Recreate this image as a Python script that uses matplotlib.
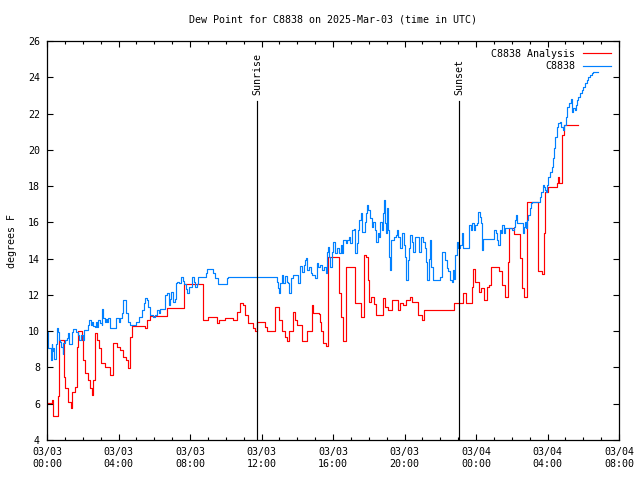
import matplotlib
matplotlib.use("Agg")
import matplotlib.pyplot as plt
from matplotlib.ticker import MultipleLocator

# hours since 2025-03-03 00:00 UTC
analysis_hours = [0.00, 0.26, 0.32, 0.60, 0.65, 0.93, 1.00, 1.19, 1.34, 1.42, 1.55, 1.66, 1.72,
                  1.94, 2.00, 2.13, 2.31, 2.40, 2.50, 2.60, 2.69, 2.80, 2.92, 3.02, 3.25, 3.52,
                  3.68, 3.90, 4.08, 4.23, 4.42, 4.55, 4.64, 4.74, 5.48, 5.58, 5.76, 6.70, 7.66,
                  8.71, 9.00, 9.49, 9.60, 9.96, 10.40, 10.65, 10.80, 10.95, 11.08, 11.26, 11.54,
                  11.65, 11.73, 12.20, 12.29, 12.76, 12.98, 13.13, 13.30, 13.41, 13.55, 13.75,
                  13.90, 13.97, 14.25, 14.53, 14.81, 14.90, 15.20, 15.27, 15.35, 15.42, 15.59,
                  15.70, 15.74, 16.35, 16.45, 16.58, 16.70, 16.73, 17.23, 17.55, 17.73, 17.85,
                  17.97, 18.03, 18.15, 18.30, 18.41, 18.78, 18.90, 19.09, 19.28, 19.60, 19.65,
                  19.75, 19.90, 20.10, 20.31, 20.40, 20.77, 20.96, 21.09, 22.79, 23.26, 23.44,
                  23.76, 23.82, 23.96, 24.17, 24.30, 24.46, 24.60, 24.74, 24.82, 25.30, 25.45,
                  25.62, 25.81, 25.85, 26.14, 26.46, 26.56, 26.69, 26.84, 27.45, 27.49, 27.68,
                  27.81, 27.86, 28.04, 28.55, 28.60, 28.66, 28.79, 28.83, 28.92, 29.72]
analysis_dewpt = [6.06, 6.20, 5.33, 6.40, 9.52, 7.50, 6.87, 6.10, 5.77, 6.67, 6.94, 9.15, 10.00,
                  9.50, 8.40, 7.68, 7.30, 6.87, 6.50, 7.30, 9.89, 9.50, 9.06, 8.23, 8.05, 7.60,
                  9.33, 9.15, 8.96, 8.60, 8.40, 7.96, 9.70, 10.30, 10.15, 10.62, 10.84, 11.30, 12.60,
                  10.62, 10.77, 10.44, 10.62, 10.73, 10.62, 11.08, 11.57, 11.45, 10.90, 10.44, 10.16,
                  10.00, 10.53, 10.25, 10.03, 11.35, 10.62, 10.03, 9.70, 9.48, 10.03, 11.08,
                  10.62, 10.34, 9.48, 10.03, 11.45, 11.00, 10.95, 10.53, 10.00, 9.37, 9.19,
                  9.30, 14.11, 12.09, 10.80, 9.48, 9.60, 13.52, 11.57, 10.77, 14.20, 14.11,
                  12.82, 11.63, 11.90, 11.50, 10.90, 11.82, 11.35, 11.17, 11.72, 11.72, 11.17,
                  11.54, 11.45, 11.72, 11.87, 11.63, 10.90, 10.62, 11.17, 11.54, 12.09, 11.57,
                  12.46, 13.41, 12.73, 12.18, 12.37, 11.72, 12.46, 12.55, 13.56, 13.34, 12.55,
                  11.87, 13.84, 15.67, 15.36, 14.02, 12.37, 11.90, 17.14, 15.21, 13.34, 13.16,
                  15.40, 17.69, 17.93, 18.19, 18.49, 18.16, 19.72, 20.82, 21.37, 21.37]

station_hours = [0.00, 0.05, 0.07, 0.22, 0.27, 0.30, 0.35, 0.41, 0.50, 0.58, 0.62, 0.69, 0.75,
                 0.80, 0.88, 0.92, 1.00, 1.12, 1.19, 1.25, 1.40, 1.47, 1.60, 1.75, 1.81, 1.90,
                 2.00, 2.09, 2.31, 2.37, 2.45, 2.50, 2.60, 2.70, 2.75, 2.81, 2.86, 2.95, 3.05,
                 3.09, 3.15, 3.25, 3.30, 3.35, 3.43, 3.52, 3.86, 4.00, 4.10, 4.18, 4.23, 4.42,
                 4.53, 4.64, 4.98, 5.15, 5.30, 5.43, 5.48, 5.58, 5.67, 5.76, 5.95, 6.05, 6.14,
                 6.25, 6.32, 6.60, 6.70, 6.80, 6.86, 6.92, 7.05, 7.15, 7.22, 7.30, 7.40, 7.48,
                 7.60, 7.68, 7.78, 7.85, 7.95, 8.10, 8.20, 8.30, 8.40, 8.46, 8.88, 8.97, 9.25,
                 9.30, 9.40, 9.58, 9.96, 10.05, 10.14, 12.76, 12.85, 12.94, 13.00, 13.06, 13.13,
                 13.22, 13.30, 13.40, 13.50, 13.56, 13.64, 13.75, 13.97, 14.06, 14.15, 14.25,
                 14.35, 14.43, 14.49, 14.55, 14.65, 14.75, 14.85, 14.99, 15.09, 15.18, 15.28,
                 15.38, 15.50, 15.60, 15.65, 15.72, 15.78, 15.83, 15.93, 16.02, 16.12, 16.25,
                 16.35, 16.45, 16.52, 16.58, 16.70, 16.80, 16.88, 16.95, 17.05, 17.17, 17.23,
                 17.33, 17.42, 17.47, 17.55, 17.61, 17.75, 17.80, 17.87, 17.92, 17.98, 18.07,
                 18.17, 18.25, 18.33, 18.41, 18.50, 18.58, 18.65, 18.72, 18.78, 18.85, 18.90,
                 18.95, 19.00, 19.05, 19.15, 19.19, 19.25, 19.40, 19.50, 19.56, 19.65, 19.75,
                 19.85, 19.95, 20.03, 20.08, 20.17, 20.25, 20.31, 20.40, 20.49, 20.58, 20.77,
                 20.83, 20.95, 21.05, 21.15, 21.22, 21.28, 21.35, 21.43, 21.50, 21.58, 21.95,
                 22.00, 22.08, 22.25, 22.35, 22.45, 22.55, 22.64, 22.70, 22.78, 22.83, 22.92,
                 23.02, 23.10, 23.20, 23.25, 23.29, 23.62, 23.70, 23.78, 23.88, 23.97, 24.05,
                 24.13, 24.20, 24.27, 24.32, 24.37, 24.97, 25.02, 25.12, 25.20, 25.25, 25.32,
                 25.40, 25.44, 25.55, 25.65, 25.85, 26.00, 26.10, 26.18, 26.24, 26.30, 26.55,
                 26.61, 26.68, 26.75, 26.82, 26.87, 26.93, 27.00, 27.06, 27.15, 27.58, 27.65,
                 27.73, 27.82, 27.88, 27.92, 27.97, 28.04, 28.13, 28.24, 28.29, 28.36, 28.42,
                 28.51, 28.60, 28.70, 28.76, 28.85, 28.95, 29.04, 29.11, 29.22, 29.30, 29.35,
                 29.45, 29.55, 29.60, 29.63, 29.72, 29.82, 29.92, 30.00, 30.10, 30.19, 30.28,
                 30.38, 30.47, 30.56, 30.84]
station_dewpt = [9.98, 9.50, 9.06, 8.41, 9.30, 8.90, 9.06, 8.45, 9.30, 10.16, 9.98, 9.52, 9.43,
                 9.15, 8.75, 9.34, 9.52, 9.60, 9.89, 9.30, 9.98, 10.10, 9.98, 9.80, 9.52, 9.80,
                 9.52, 10.07, 10.34, 10.62, 10.34, 10.53, 10.30, 10.25, 10.53, 10.25, 10.62, 10.43, 10.34,
                 11.21, 10.72, 10.53, 10.66, 10.53, 10.72, 10.16, 10.72, 10.53, 10.72, 11.00, 11.72, 11.00,
                 10.53, 10.34, 10.53, 10.80, 11.17, 11.54, 11.82, 11.72, 11.35, 10.90, 10.77, 10.90, 11.17,
                 11.00, 11.21, 12.00, 12.09, 11.45, 11.80, 12.18, 11.62, 11.80, 12.64, 12.73, 12.68, 13.00,
                 12.76, 12.60, 12.30, 12.13, 12.46, 12.97, 12.73, 12.46, 12.60, 12.97, 13.20, 13.41, 13.41,
                 13.20, 12.92, 12.60, 12.60, 12.92, 12.97, 12.97, 12.73, 12.37, 12.13, 12.64, 13.10,
                 12.64, 13.05, 12.73, 12.64, 12.13, 12.92, 13.10, 13.10, 12.64, 13.60, 13.28,
                 13.65, 13.93, 14.02, 13.38, 13.56, 13.20, 13.10, 12.92, 13.78, 13.56, 13.65,
                 13.38, 13.56, 13.20, 14.38, 14.65, 14.10, 13.56, 14.38, 14.93, 14.29, 14.56,
                 14.29, 14.75, 14.29, 15.03, 14.84, 15.03, 15.20, 14.84, 15.58, 15.62, 14.29,
                 14.84, 15.58, 16.13, 16.50, 15.49, 15.49, 16.04, 16.50, 16.96, 16.68, 16.22,
                 15.76, 16.04, 15.58, 14.93, 15.40, 15.20, 16.04, 15.58, 16.50, 17.23, 15.95,
                 15.40, 16.78, 15.58, 14.11, 13.38, 15.03, 15.20, 15.30, 15.58, 15.20, 14.57,
                 15.40, 14.75, 14.10, 12.82, 13.93, 14.57, 15.30, 14.93, 14.38, 15.20, 15.20,
                 14.38, 15.20, 14.93, 14.57, 13.84, 12.82, 14.00, 15.03, 13.56, 12.82, 12.82,
                 13.00, 14.38, 13.93, 13.47, 13.30, 12.82, 12.73, 13.38, 12.90, 14.20, 14.93,
                 14.57, 14.75, 15.40, 15.00, 14.57, 15.86, 15.58, 15.95, 15.58, 15.86, 15.95,
                 16.59, 16.31, 15.95, 14.48, 15.07, 15.07, 15.58, 15.40, 15.03, 14.75, 15.58,
                 15.40, 15.86, 15.40, 15.68, 15.68, 15.58, 15.76, 16.13, 16.41, 15.95, 15.95,
                 15.40, 15.76, 16.04, 15.68, 16.13, 16.41, 16.78, 17.05, 17.14, 17.42, 17.69,
                 18.06, 17.97, 17.79, 17.69, 18.06, 18.52, 18.80, 19.07, 19.53, 20.08, 20.72,
                 21.27, 21.46, 21.55, 21.27, 21.10, 21.37, 21.83, 22.38, 22.60, 22.79, 22.10,
                 22.29, 22.20, 22.47, 22.75, 22.90, 23.12, 23.30, 23.48, 23.67, 23.85, 24.03,
                 24.12, 24.25, 24.27, 24.27]

sunrise_hour = 11.75
sunset_hour = 23.05
marker_top = 22.7

x_ticks = [0, 4, 8, 12, 16, 20, 24, 28, 32]
x_labels = ["03/03\n00:00", "03/03\n04:00", "03/03\n08:00", "03/03\n12:00", "03/03\n16:00",
            "03/03\n20:00", "03/04\n00:00", "03/04\n04:00", "03/04\n08:00"]

plt.rcParams['font.family'] = ['DejaVu Sans Mono']
plt.rcParams['font.size'] = 7.2

fig = plt.figure(figsize=(6.4, 4.8), dpi=100)
ax = fig.add_axes([47 / 640, 40 / 480, 572 / 640, 399 / 480])

ax.plot(analysis_hours, analysis_dewpt, color='#ff0000', lw=0.85, drawstyle='steps-post',
        label='C8838 Analysis')
ax.plot(station_hours, station_dewpt, color='#0080ff', lw=0.85, drawstyle='steps-post',
        label='C8838')

for h, name in [(sunrise_hour, 'Sunrise'), (sunset_hour, 'Sunset')]:
    ax.plot([h, h], [4, marker_top], color='black', lw=0.85)
    ax.text(h, marker_top + 0.35, name, rotation=90, ha='center', va='bottom')

ax.set_xlim(0, 32)
ax.set_ylim(4, 26)
ax.set_xticks(x_ticks)
ax.set_xticklabels(x_labels)
ax.xaxis.set_minor_locator(MultipleLocator(1))
ax.set_yticks(range(4, 27, 2))
ax.tick_params(which='both', direction='in', top=True, right=True, width=0.8)
ax.tick_params(which='major', length=4.5, pad=5)
ax.tick_params(which='minor', length=2.5)
for s in ax.spines.values():
    s.set_linewidth(0.9)

ax.set_title('Dew Point for C8838 on 2025-Mar-03 (time in UTC)', fontsize=7.2, pad=13)
ax.set_ylabel('degrees F', labelpad=8)

ax.legend(loc='upper right', frameon=False, markerfirst=False, handlelength=2.8,
          handletextpad=0.8, labelspacing=0.25, borderaxespad=0.4)

fig.savefig('out.png', dpi=100)
